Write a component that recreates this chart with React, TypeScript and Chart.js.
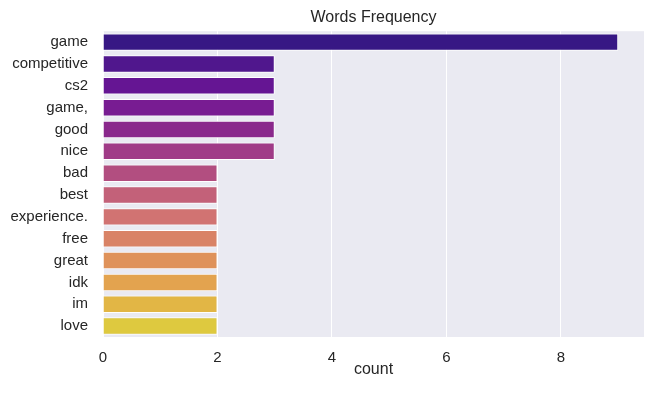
import React, { useEffect, useRef } from "react";
import { Chart, registerables } from "chart.js";

Chart.register(...registerables);

const words = [
  "game", "competitive", "cs2", "game,", "good", "nice", "bad",
  "best", "experience.", "free", "great", "idk", "im", "love",
];
const counts = [9, 3, 3, 3, 3, 3, 2, 2, 2, 2, 2, 2, 2, 2];
const xTicks = [0, 2, 4, 6, 8];
const xMax = 9.45;

// plasma colormap samples (seaborn palette of 14), then desaturated to 0.75
const plasmaRaw: [number, number, number][] = [
  [48, 5, 150], [79, 3, 161], [106, 0, 168], [131, 9, 165], [154, 23, 157],
  [177, 42, 144], [195, 61, 128], [211, 81, 113], [225, 100, 98], [236, 121, 83],
  [245, 143, 68], [252, 166, 54], [252, 193, 43], [248, 220, 36],
];

function desat([r, g, b]: [number, number, number], prop: number): string {
  const R = r / 255, G = g / 255, B = b / 255;
  const mx = Math.max(R, G, B), mn = Math.min(R, G, B);
  const l = (mx + mn) / 2;
  const d = mx - mn;
  if (d === 0) return `rgb(${r},${g},${b})`;
  const s = l > 0.5 ? d / (2 - mx - mn) : d / (mx + mn);
  const s2 = s * prop;
  const d2 = l > 0.5 ? s2 * (2 - 2 * l) : s2 * (2 * l);
  const mx2 = l + d2 / 2, mn2 = l - d2 / 2;
  const f = (v: number) => Math.round(255 * (mn2 + ((v - mn) / d) * (mx2 - mn2)));
  return `rgb(${f(R)},${f(G)},${f(B)})`;
}

const barColors = plasmaRaw.map((c) => desat(c, 0.75));

const FONT = "'Liberation Sans', Arial, 'DejaVu Sans', sans-serif";
const TEXT = "#262626";

export default function App() {
  const ref = useRef<HTMLCanvasElement>(null);
  useEffect(() => {
    if (!ref.current) return;
    const bg = {
      id: "bg",
      beforeDraw(chart: any) {
        const { ctx, chartArea: a } = chart;
        ctx.save();
        ctx.fillStyle = "#eaeaf2";
        ctx.fillRect(a.left, a.top, a.right - a.left, a.bottom - a.top);
        ctx.restore();
      },
    };
    const chart = new Chart(ref.current, {
      type: "bar",
      data: {
        labels: words,
        datasets: [
          {
            data: counts,
            backgroundColor: barColors,
            borderColor: "#ffffff",
            borderWidth: 1,
            barPercentage: 0.8,
            categoryPercentage: 1,
          },
        ],
      },
      plugins: [bg],
      options: {
        indexAxis: "y",
        animation: false,
        responsive: false,
        maintainAspectRatio: false,
        layout: { padding: { left: 0, right: 10, top: 0, bottom: 0 } },
        plugins: {
          legend: { display: false },
          tooltip: { enabled: false },
          title: {
            display: true,
            text: "Words Frequency",
            fullSize: false,
            color: TEXT,
            font: { family: FONT, size: 16, weight: "normal" },
            padding: { top: 8, bottom: 4 },
          },
        },
        scales: {
          x: {
            type: "linear",
            min: 0,
            max: xMax,
            afterBuildTicks: (s: any) => {
              s.ticks = xTicks.map((v) => ({ value: v }));
            },
            afterFit: (s: any) => {
              s.height = 59;
            },
            ticks: {
              color: TEXT,
              font: { family: FONT, size: 15 },
              padding: 12,
            },
            grid: { color: "#ffffff", lineWidth: 1, drawTicks: false },
            border: { display: false },
            title: {
              display: true,
              text: "count",
              color: TEXT,
              font: { family: FONT, size: 16 },
              padding: { top: 0, bottom: 17 },
            },
          },
          y: {
            type: "category",
            offset: true,
            afterFit: (s: any) => {
              s.width = 103;
            },
            ticks: {
              color: TEXT,
              font: { family: FONT, size: 15 },
              padding: 15,
              autoSkip: false,
            },
            grid: { display: false, drawTicks: false },
            border: { display: false },
          },
        },
      },
    } as any);
    return () => chart.destroy();
  }, []);
  return (
    <div style={{ position: "fixed", left: 0, top: 0, width: 654, height: 396, background: "#fff" }}>
      <canvas ref={ref} width={654} height={396} style={{ width: 654, height: 396 }} />
    </div>
  );
}
